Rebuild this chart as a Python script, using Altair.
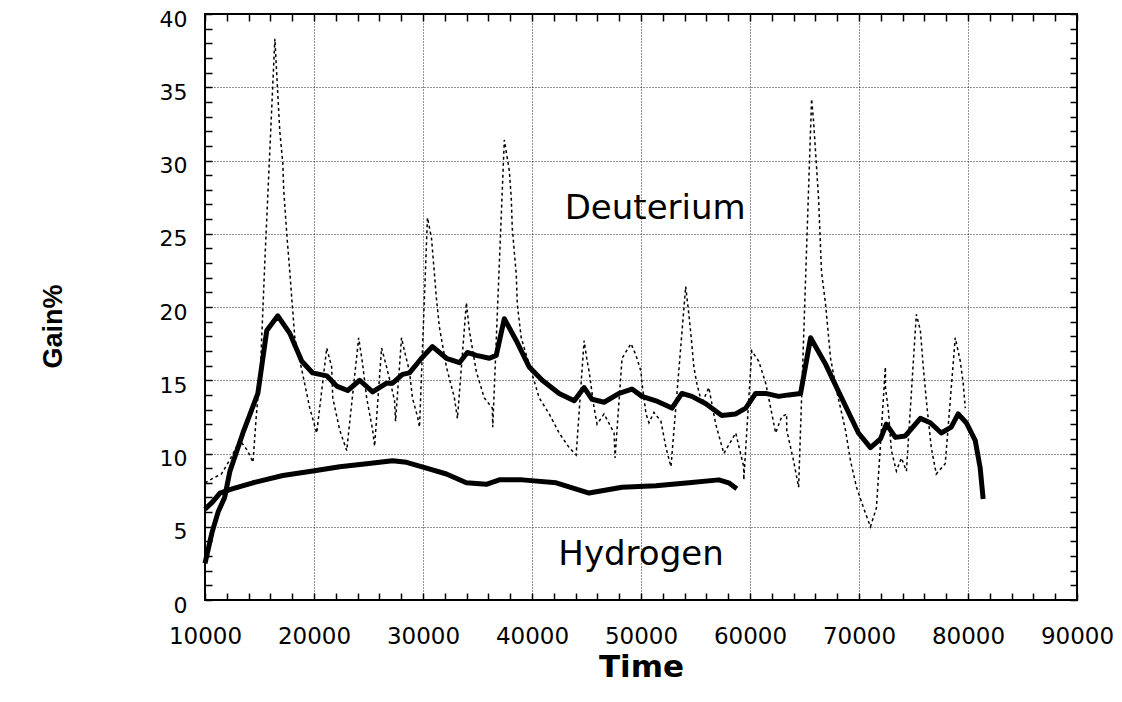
import altair as alt
import pandas as pd

# ---- data ----
deut_x = [10000, 10640, 11200, 11800, 12290, 13480, 14850, 15670, 16680, 17780, 18880, 19880,
          21170, 22080, 23090, 24190, 25380, 26660, 27210, 28120, 28760, 29860, 30870, 32150,
          33340, 34070, 34890, 36090, 36720, 37460, 38560, 39750, 40940, 42490, 43870, 44780,
          45510, 46610, 47990, 49170, 50090, 51370, 52840, 53750, 54670, 55950, 57410, 58690,
          59610, 60520, 61440, 62630, 63540, 64640, 65560, 66930, 68400, 69950, 71050, 71970,
          72510, 73340, 74250, 75630, 76540, 77550, 78460, 79100, 79840, 80660, 81120, 81390]
deut_y = [2.5, 4.6, 6.0, 7.0, 8.8, 11.4, 14.1, 18.4, 19.4, 18.2, 16.3, 15.5,
          15.3, 14.6, 14.3, 15.0, 14.2, 14.8, 14.8, 15.4, 15.5, 16.5, 17.3, 16.5,
          16.2, 16.9, 16.7, 16.5, 16.7, 19.2, 17.7, 15.9, 15.0, 14.1, 13.6, 14.5,
          13.7, 13.5, 14.1, 14.4, 13.9, 13.6, 13.1, 14.1, 13.9, 13.4, 12.6, 12.7,
          13.1, 14.1, 14.1, 13.9, 14.0, 14.1, 17.9, 16.1, 13.8, 11.4, 10.4, 11.0,
          12.0, 11.1, 11.2, 12.4, 12.1, 11.4, 11.8, 12.7, 12.1, 10.9, 9.0, 6.9]

hyd_x = [10000, 10700, 11370, 12560, 14400, 17140, 19900, 22360, 24830, 27210, 28490, 30320,
         32150, 33980, 35810, 37000, 39110, 42220, 45240, 48260, 51370, 54390, 57140, 58050, 58790]
hyd_y = [6.2, 6.7, 7.3, 7.6, 8.0, 8.5, 8.8, 9.1, 9.3, 9.5, 9.4, 9.0,
         8.6, 8.0, 7.9, 8.2, 8.2, 8.0, 7.3, 7.7, 7.8, 8.0, 8.2, 8.0, 7.6]

raw_x = [10000, 10700, 11500, 12300, 13200, 13900, 14400, 14700, 15100, 15500, 16410, 16680,
         16860, 17140, 17220, 17500, 17780, 17960, 18240, 18970, 19610, 20250,
         21170, 21620, 21720, 22360, 23000,
         24100, 24460, 24830, 25380, 25560,
         26200, 26660, 27120, 27390, 27480,
         28030, 28300, 28760, 29030, 29500, 29680,
         30410, 30780, 31230, 31510, 32150, 32880, 33160,
         33980, 34250, 34890, 35620, 36360, 36400,
         37460, 37920, 38100, 38190, 38370, 38560, 38650, 39010, 40660, 41580, 42490, 43410, 44050,
         44780, 45060, 45240, 45700, 45970, 46610, 47530, 47620,
         48260, 49080, 49540, 50000, 50090, 50460, 50730, 51190, 51830, 52290, 52750,
         54100, 54390, 54570, 54850, 55120, 55580, 56220, 56860, 57600, 58690, 59420, 59430,
         60160, 60800, 61440, 61900, 62350, 62900, 63360, 63370, 64000, 64460,
         65650, 65830, 66110, 66290, 66560, 66930, 67390, 67940, 68760, 69220, 69770, 70410, 71050, 71600,
         72420, 72430, 72700, 72970, 73430, 73890, 74350,
         75260, 75630, 75900, 76180, 76630, 77090, 77910,
         78830, 79290, 79560, 79750]
raw_y = [8.0, 8.3, 8.6, 9.6, 10.9, 10.2, 9.4, 12.5, 16.0, 23.3, 38.3, 34.5,
         32.0, 29.8, 28.0, 25.0, 22.4, 20.6, 17.9, 15.4, 13.1, 11.4,
         17.2, 15.9, 13.8, 11.6, 10.2,
         17.9, 16.1, 13.8, 11.6, 10.5,
         17.2, 15.9, 14.5, 13.6, 12.2,
         17.9, 17.0, 15.6, 13.8, 12.5, 11.8,
         26.1, 24.7, 20.6, 18.6, 15.9, 13.8, 12.4,
         20.3, 18.4, 15.6, 13.8, 13.1, 11.8,
         31.4, 29.3, 27.4, 25.4, 23.8, 22.2, 20.2, 17.9, 13.8, 12.7, 11.4, 10.4, 9.9,
         17.7, 16.3, 15.6, 13.1, 12.0, 12.7, 11.4, 9.7,
         16.5, 17.5, 16.7, 15.6, 14.8, 12.7, 12.1, 12.8, 12.2, 10.4, 9.1,
         21.4, 19.5, 18.2, 15.9, 14.8, 13.4, 14.5, 12.0, 10.0, 11.4, 9.1, 8.2,
         17.0, 16.3, 14.8, 13.1, 11.4, 12.5, 12.7, 11.6, 9.5, 7.7,
         34.2, 32.7, 29.5, 27.4, 22.4, 20.2, 16.5, 14.3, 11.6, 9.5, 7.7, 6.3, 5.0, 6.3,
         15.9, 14.5, 12.9, 10.2, 8.8, 9.7, 8.8,
         19.5, 18.4, 15.9, 13.6, 10.4, 8.6, 9.3,
         17.9, 16.3, 14.8, 13.1]

label_text = ["Deuterium", "Hydrogen"]
label_x = [51300, 50000]
label_y = [26.7, 3.1]

x_major = list(range(10000, 90001, 10000))
x_minor = list(range(10000, 90001, 2000))
y_major = list(range(0, 41, 5))
y_minor = list(range(0, 41, 1))

FONT = "DejaVu Sans"

deut = pd.DataFrame({"t": deut_x, "g": deut_y})
hyd = pd.DataFrame({"t": hyd_x, "g": hyd_y})
raw = pd.DataFrame({"t": raw_x, "g": raw_y, "i": list(range(len(raw_x)))})
labels = pd.DataFrame({"t": label_x, "g": label_y, "txt": label_text})

xs = alt.Scale(domain=[10000, 90000], nice=False, zero=False)
ys = alt.Scale(domain=[0, 40], nice=False, zero=False)

main_x_axis = alt.Axis(
    values=x_major, title="Time", grid=True, gridDash=[1, 2], gridColor="black",
    gridWidth=1, gridOpacity=0.85, ticks=False, domain=False, labelFont=FONT, labelFontSize=23,
    labelColor="black", labelPadding=25, labelFlush=False, labelOverlap=False,
    titleFont=FONT, titleFontSize=31, titleFontWeight="bold", titleColor="black",
    titleY=76, titleBaseline="alphabetic", format="d")
main_y_axis = alt.Axis(
    values=y_major, title="Gain%", grid=True, gridDash=[1, 2], gridColor="black",
    gridWidth=1, gridOpacity=0.85, ticks=False, domain=False, labelFont=FONT, labelFontSize=22,
    labelColor="black", labelPadding=18, labelOffset=5, labelFlush=False, labelOverlap=False,
    titleFont="Liberation Sans", titleFontSize=27, titleFontWeight="bold", titleColor="black",
    titleAngle=270, titleX=-152, titleY=312, titleAlign="center", titleBaseline="middle")


def minor_axis(orient, vals):
    return alt.Axis(orient=orient, values=vals, labels=False, domain=False, grid=False,
                    ticks=True, tickSize=7, tickWidth=1.5, tickColor="black", offset=-7,
                    title=None)


deut_line = alt.Chart(deut).mark_line(color="black", strokeWidth=5, strokeJoin="round").encode(
    x=alt.X("t:Q", scale=xs, axis=main_x_axis),
    y=alt.Y("g:Q", scale=ys, axis=main_y_axis),
)

hyd_line = alt.Chart(hyd).mark_line(color="black", strokeWidth=5, strokeJoin="round").encode(
    x=alt.X("t:Q", scale=xs, axis=minor_axis("bottom", x_minor)),
    y=alt.Y("g:Q", scale=ys, axis=minor_axis("left", y_minor)),
)

raw_line = alt.Chart(raw).mark_line(color="black", strokeWidth=1.5, strokeDash=[3, 3]).encode(
    x=alt.X("t:Q", scale=xs, axis=minor_axis("top", x_minor)),
    y=alt.Y("g:Q", scale=ys, axis=minor_axis("right", y_minor)),
    order="i:Q",
)

text = alt.Chart(labels).mark_text(font=FONT, fontSize=34, color="black",
                                   align="center", baseline="middle").encode(
    x=alt.X("t:Q", scale=xs, axis=None),
    y=alt.Y("g:Q", scale=ys, axis=None),
    text="txt:N",
)

chart = alt.layer(raw_line, hyd_line, deut_line, text).resolve_axis(
    x="independent", y="independent"
).properties(
    width=872, height=586, autosize="none",
    padding={"left": 197, "top": 6, "right": 37, "bottom": 94},
    background="white",
).configure_view(stroke="black", strokeWidth=2)

chart.save("out.html", embed_options={"renderer": "svg", "actions": False})
